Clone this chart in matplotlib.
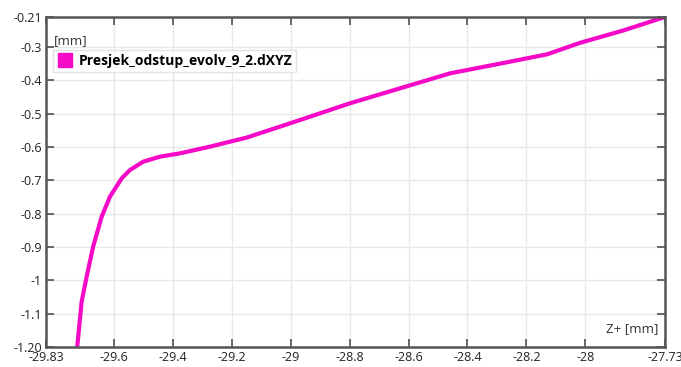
import matplotlib
matplotlib.use("Agg")
import matplotlib.pyplot as plt
from matplotlib.lines import Line2D

# Data
z_vals = [-29.724, -29.709, -29.692, -29.670, -29.641, -29.613, -29.573, -29.545,
          -29.500, -29.443, -29.375, -29.274, -29.15, -29.002, -28.968, -28.799,
          -28.629, -28.459, -28.29, -28.13, -28.02, -27.87, -27.73]
d_vals = [-1.20, -1.064, -0.989, -0.899, -0.809, -0.749, -0.694, -0.669,
          -0.644, -0.629, -0.619, -0.599, -0.572, -0.529, -0.519, -0.469,
          -0.424, -0.379, -0.350, -0.322, -0.288, -0.25, -0.21]
x_ticks = [-29.83, -29.6, -29.4, -29.2, -29.0, -28.8, -28.6, -28.4, -28.2, -28.0, -27.73]
x_labels = ["-29.83", "-29.6", "-29.4", "-29.2", "-29", "-28.8", "-28.6", "-28.4", "-28.2", "-28", "-27.73"]
y_ticks = [-0.21, -0.3, -0.4, -0.5, -0.6, -0.7, -0.8, -0.9, -1.0, -1.1, -1.20]
y_labels = ["-0.21", "-0.3", "-0.4", "-0.5", "-0.6", "-0.7", "-0.8", "-0.9", "-1", "-1.1", "-1.20"]
series_name = "Presjek_odstup_evolv_9_2.dXYZ"

color = "#f50ac8"
plt.rcParams['font.family'] = ['Open Sans', 'DejaVu Sans']

fig = plt.figure(figsize=(6.81, 3.67), dpi=100)
ax = fig.add_axes([0.0675, 0.0545, 0.909, 0.8992])
ax.plot(z_vals, d_vals, color=color, lw=3.0, solid_capstyle='butt', solid_joinstyle='round')
ax.set_xlim(-29.83, -27.73)
ax.set_ylim(-1.20, -0.21)
ax.set_xticks(x_ticks)
ax.set_xticklabels(x_labels)
ax.set_yticks(y_ticks)
ax.set_yticklabels(y_labels)
ax.grid(True, color='#e8e8e8', lw=1.0)
ax.set_axisbelow(True)
ax.tick_params(direction='in', length=6, width=1.2, color='#505050',
               top=True, right=True, labelsize=9, labelcolor='#222222', pad=3)
for s in ax.spines.values():
    s.set_color('#555555')
    s.set_linewidth(1.8)

ax.text(0.013, 0.93, "[mm]", transform=ax.transAxes, fontsize=9.5, color='#333333',
        ha='left', va='center')
ax.text(0.99, 0.055, "Z+ [mm]", transform=ax.transAxes, fontsize=9.5, color='#333333',
        ha='right', va='center')

handle = Line2D([], [], marker='s', color=color, ls='none', markersize=10)
leg = ax.legend([handle], [series_name], loc='upper left', bbox_to_anchor=(0.012, 0.9),
                frameon=True, fancybox=False, borderpad=0.3, handletextpad=0.5,
                handlelength=1.0, borderaxespad=0,
                prop={'weight': 'bold', 'size': 10})
leg.get_frame().set_edgecolor('#dddddd')
leg.get_frame().set_linewidth(1.0)

fig.savefig("out.png", dpi=100)
